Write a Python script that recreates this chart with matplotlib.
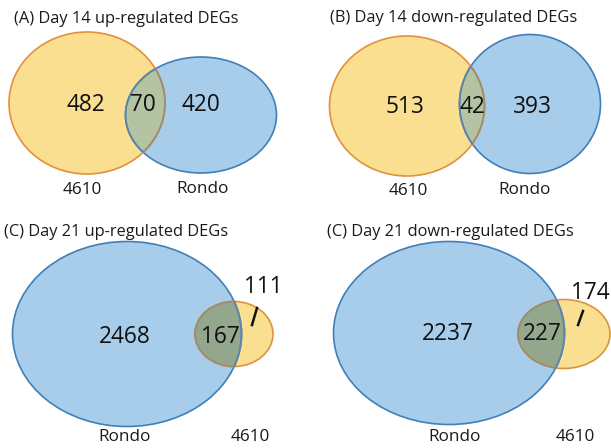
import matplotlib
matplotlib.use("Agg")
import matplotlib.pyplot as plt
from matplotlib.patches import Ellipse

plt.rcParams["font.family"] = ["Open Sans", "DejaVu Sans"]

# =====================================================
# DATA
# =====================================================

titles = [
    "(A) Day 14 up-regulated DEGs",
    "(B) Day 14 down-regulated DEGs",
    "(C) Day 21 up-regulated DEGs",
    "(C) Day 21 down-regulated DEGs",
]

# counts: only set 1, overlap, only set 2
only_first = [482, 513, 2468, 2237]
overlap = [70, 42, 167, 227]
only_second = [420, 393, 111, 174]

first_names = ["4610", "4610", "Rondo", "Rondo"]
second_names = ["Rondo", "Rondo", "4610", "4610"]

# =====================================================
# LAYOUT (pixel coords, y downwards)
# =====================================================

YELLOW = "#fbdf90"
YELLOW_EDGE = "#e0913f"
BLUE = "#a7cdea"
BLUE_EDGE = "#3f7fba"
# edge colours where they run inside the overlap
MUTED = {YELLOW: "#9a8d72", BLUE: "#5f86a6"}

panels = [
    dict(tx=14, ty=19,
         e1=(87, 103, 156, 142), e2=(201, 115, 151, 116),
         n1=(86, 105), n0=(143, 105), n2=(201, 105),
         l1=(82, 190), l2=(203, 189),
         c1=YELLOW, c2=BLUE, mid="#b4c4a2", line=None),
    dict(tx=330, ty=18,
         e1=(407, 106, 155, 140), e2=(530, 104, 141, 139),
         n1=(405, 107), n0=(472, 107), n2=(532, 107),
         l1=(408, 191), l2=(525, 190),
         c1=YELLOW, c2=BLUE, mid="#b4c4a2", line=None),
    dict(tx=4, ty=232,
         e1=(127, 334, 229, 185), e2=(234, 334, 78, 65),
         n1=(125, 337), n0=(220, 337), n2=(263, 287),
         l1=(125, 437), l2=(250, 437),
         c1=BLUE, c2=YELLOW, mid="#93a78d",
         line=((257, 308), (252, 325))),
    dict(tx=327, ty=232,
         e1=(449, 333, 231, 183), e2=(564, 334, 92, 69),
         n1=(448, 334), n0=(542, 334), n2=(590, 293),
         l1=(455, 437), l2=(575, 437),
         c1=BLUE, c2=YELLOW, mid="#93a78d",
         line=((583, 311), (578, 325))),
]

# =====================================================
# PLOT
# =====================================================

fig = plt.figure(figsize=(6.11, 4.48), dpi=100)
ax = fig.add_axes([0, 0, 1, 1])
ax.set_xlim(0, 611)
ax.set_ylim(448, 0)
ax.axis("off")

edge_of = {YELLOW: YELLOW_EDGE, BLUE: BLUE_EDGE}

for i, p in enumerate(panels):
    x1, y1, w1, h1 = p["e1"]
    x2, y2, w2, h2 = p["e2"]

    a = Ellipse((x1, y1), w1, h1, facecolor=p["c1"], edgecolor="none")
    b = Ellipse((x2, y2), w2, h2, facecolor=p["c2"], edgecolor="none")
    ax.add_patch(a)
    ax.add_patch(b)

    # overlap region
    mid = Ellipse((x2, y2), w2, h2, facecolor=p["mid"], edgecolor="none")
    ax.add_patch(mid)
    mid.set_clip_path(a)

    ax.add_patch(Ellipse((x2, y2), w2, h2, fill=False,
                         edgecolor=edge_of[p["c2"]], lw=1.2))
    ax.add_patch(Ellipse((x1, y1), w1, h1, fill=False,
                         edgecolor=edge_of[p["c1"]], lw=1.2))

    # muted edges inside the overlap
    in1 = Ellipse((x1, y1), w1, h1, fill=False,
                  edgecolor=MUTED[p["c1"]], lw=1.3)
    ax.add_patch(in1)
    in1.set_clip_path(b)
    in2 = Ellipse((x2, y2), w2, h2, fill=False,
                  edgecolor=MUTED[p["c2"]], lw=1.3)
    ax.add_patch(in2)
    in2.set_clip_path(a)

    ax.text(p["tx"], p["ty"], titles[i], fontsize=11.8,
            ha="left", va="center", color="#1a1a1a")

    ax.text(*p["n1"], str(only_first[i]), fontsize=16.3,
            ha="center", va="center", color="#111111")
    ax.text(*p["n0"], str(overlap[i]), fontsize=16.3,
            ha="center", va="center", color="#111111")
    ax.text(*p["n2"], str(only_second[i]), fontsize=16.3,
            ha="center", va="center", color="#111111")

    if p["line"] is not None:
        (xa, ya), (xb, yb) = p["line"]
        ax.plot([xa, xb], [ya, yb], color="#111111", lw=1.8)

    ax.text(*p["l1"], first_names[i], fontsize=12.3,
            ha="center", va="center", color="#1a1a1a")
    ax.text(*p["l2"], second_names[i], fontsize=12.3,
            ha="center", va="center", color="#1a1a1a")

fig.savefig("out.png", dpi=100)
